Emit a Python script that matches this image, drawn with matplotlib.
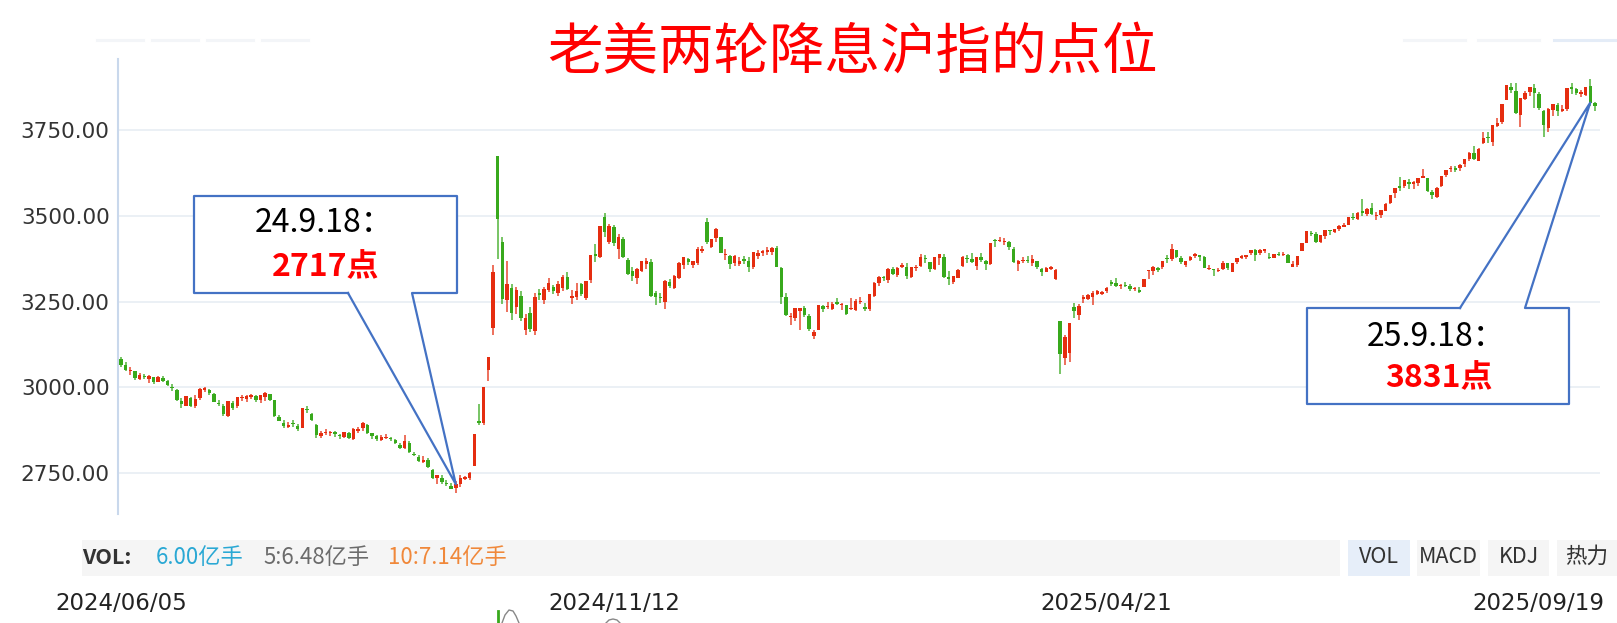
import numpy as np
import matplotlib
matplotlib.use("Agg")
import matplotlib.pyplot as plt
from matplotlib.patches import Rectangle
from matplotlib.lines import Line2D
from matplotlib.transforms import blended_transform_factory

plt.rcParams["font.family"] = ["DejaVu Sans", "Noto Sans CJK SC"]

# Shanghai Composite daily candles, 2024/06/05 - 2025/09/19 (one entry per trading day)
open_ = [
    # 2024-06
    3083, 3064, 3047, 3046, 3024, 3033, 3024, 3029, 3015, 3027, 3017, 3001, 2993, 2960, 2946, 2969, 2945,
    # 2024-07
    2968, 2993, 2992, 2979, 2954, 2945, 2916, 2953, 2945, 2968, 2966, 2971, 2974, 2962, 2970, 2979, 2963,
    2913, 2895, 2884, 2893, 2888, 2880,
    # 2024-08
    2933, 2921, 2890, 2857, 2866, 2865, 2868, 2860, 2856, 2866, 2850, 2873, 2880, 2891, 2866, 2857, 2846,
    2851, 2852, 2846, 2832, 2823,
    # 2024-09
    2838, 2805, 2795, 2781, 2788, 2758, 2734, 2736, 2721, 2712, 2705, 2716, 2733, 2735, 2770, 2900, 2894,
    3049, 3174,
    # 2024-10
    3674, 3425, 3255, 3289, 3235, 3265, 3168, 3216, 3165, 3276, 3255, 3285, 3292, 3274, 3290, 3323, 3260, 3262,
    # 2024-11
    3300, 3260, 3313, 3390, 3380, 3498, 3425, 3467, 3405, 3434, 3372, 3340, 3318, 3340, 3360, 3366, 3275,
    3262, 3248, 3306, 3290,
    # 2024-12
    3320, 3358, 3374, 3358, 3364, 3397, 3482, 3410, 3435, 3438, 3386, 3384, 3363, 3360, 3374, 3369, 3351,
    3384, 3393, 3394, 3394, 3407,
    # 2025-01
    3347, 3262, 3205, 3203, 3223, 3230, 3207, 3150, 3166, 3237, 3234, 3227, 3250, 3240, 3240, 3227, 3225, 3250,
    # 2025-02
    3233, 3228, 3265, 3303, 3319, 3313, 3344, 3327, 3350, 3352, 3322, 3347, 3353, 3378, 3365, 3344, 3376, 3381,
    # 2025-03
    3323, 3306, 3320, 3355, 3376, 3375, 3353, 3381, 3369, 3359, 3428, 3428, 3425, 3425, 3405, 3360, 3368,
    3370, 3364, 3369, 3346,
    # 2025-04
    3337, 3345, 3315, 3193, 3085, 3100, 3235, 3211, 3258, 3258, 3262, 3272, 3272, 3280, 3308, 3305, 3295,
    3296, 3295, 3286, 3285,
    # 2025-05
    3294, 3339, 3340, 3349, 3352, 3378, 3373, 3401, 3378, 3357, 3371, 3383, 3385, 3380, 3344, 3344, 3340,
    3345, 3362,
    # 2025-06
    3336, 3365, 3378, 3381, 3392, 3402, 3391, 3397, 3380, 3376, 3389, 3386, 3385, 3352, 3358, 3397, 3422,
    3449, 3447, 3424,
    # 2025-07
    3441, 3458, 3452, 3461, 3468, 3474, 3495, 3490, 3515, 3505, 3524, 3501, 3502, 3516, 3537, 3566, 3588,
    3587, 3600, 3592, 3597, 3611, 3610,
    # 2025-08
    3570, 3556, 3589, 3619, 3636, 3640, 3639, 3652, 3667, 3683, 3662, 3712, 3732, 3717, 3764, 3774, 3840,
    3877, 3865, 3796, 3843,
    # 2025-09
    3861, 3874, 3855, 3808, 3756, 3811, 3824, 3808, 3812, 3876, 3872, 3855, 3852, 3879, 3830,
]

high = [
    3087, 3073, 3058, 3047, 3041, 3039, 3036, 3031, 3032, 3032, 3022, 3008, 2995, 2968, 2974, 2972, 2978,
    2998, 3002, 2996, 2983, 2964, 2950, 2960, 2960, 2972, 2976, 2977, 2981, 2976, 2978, 2985, 2981, 2964,
    2920, 2903, 2897, 2904, 2893, 2939,
    2945, 2924, 2893, 2871, 2878, 2873, 2872, 2863, 2870, 2870, 2880, 2884, 2898, 2892, 2866, 2861, 2859,
    2864, 2856, 2850, 2838, 2860,
    2843, 2812, 2802, 2798, 2792, 2760, 2744, 2745, 2728, 2719, 2726, 2744, 2742, 2752, 2864, 2952, 3001,
    3088, 3358,
    3674, 3440, 3370, 3300, 3292, 3280, 3215, 3235, 3275, 3288, 3294, 3318, 3299, 3310, 3327, 3337, 3285, 3303,
    3305, 3311, 3387, 3418, 3471, 3509, 3478, 3474, 3447, 3438, 3376, 3350, 3348, 3370, 3376, 3375, 3282,
    3275, 3312, 3317, 3328,
    3366, 3379, 3378, 3369, 3409, 3412, 3495, 3433, 3465, 3440, 3405, 3387, 3387, 3379, 3382, 3380, 3394,
    3401, 3402, 3410, 3410, 3411,
    3352, 3274, 3218, 3230, 3232, 3236, 3214, 3166, 3241, 3241, 3248, 3248, 3261, 3247, 3241, 3261, 3258, 3264,
    3246, 3271, 3306, 3324, 3325, 3347, 3350, 3350, 3364, 3362, 3352, 3356, 3388, 3385, 3367, 3380, 3390, 3388,
    3338, 3325, 3345, 3384, 3385, 3392, 3380, 3391, 3371, 3420, 3434, 3440, 3436, 3427, 3409, 3371, 3379,
    3383, 3385, 3370, 3348,
    3350, 3355, 3345, 3193, 3151, 3188, 3245, 3244, 3268, 3273, 3280, 3283, 3281, 3294, 3312, 3320, 3302,
    3306, 3300, 3292, 3293,
    3316, 3343, 3353, 3352, 3370, 3386, 3418, 3402, 3382, 3369, 3382, 3393, 3386, 3382, 3357, 3346, 3348,
    3368, 3363,
    3362, 3376, 3386, 3387, 3401, 3403, 3404, 3404, 3392, 3389, 3394, 3394, 3390, 3370, 3382, 3421, 3456,
    3455, 3454, 3445,
    3459, 3460, 3463, 3475, 3479, 3497, 3509, 3511, 3550, 3522, 3539, 3512, 3517, 3537, 3560, 3582, 3613,
    3606, 3608, 3603, 3610, 3636, 3611,
    3575, 3584, 3618, 3635, 3646, 3645, 3652, 3666, 3688, 3705, 3698, 3746, 3746, 3766, 3787, 3826, 3884,
    3888, 3888, 3845, 3866,
    3876, 3885, 3862, 3809, 3816, 3827, 3830, 3825, 3875, 3887, 3874, 3868, 3877, 3899, 3834,
]

low = [
    3059, 3046, 3036, 3021, 3022, 3025, 3011, 3009, 3014, 3016, 3004, 2990, 2960, 2940, 2946, 2943, 2940,
    2964, 2985, 2978, 2956, 2945, 2916, 2913, 2933, 2940, 2961, 2957, 2966, 2957, 2955, 2960, 2961, 2913,
    2900, 2880, 2880, 2883, 2873, 2880,
    2925, 2900, 2852, 2852, 2860, 2858, 2856, 2849, 2852, 2849, 2845, 2866, 2873, 2864, 2850, 2844, 2844,
    2850, 2844, 2833, 2819, 2820,
    2809, 2798, 2783, 2780, 2765, 2733, 2716, 2716, 2712, 2702, 2690, 2708, 2729, 2728, 2770, 2889, 2889,
    3017, 3152,
    3374, 3243, 3220, 3195, 3215, 3193, 3152, 3160, 3152, 3255, 3242, 3277, 3272, 3267, 3280, 3285, 3242, 3255,
    3265, 3255, 3305, 3365, 3376, 3438, 3417, 3412, 3374, 3376, 3328, 3310, 3300, 3335, 3344, 3264, 3240,
    3247, 3228, 3290, 3286,
    3315, 3346, 3357, 3349, 3357, 3393, 3417, 3407, 3423, 3391, 3372, 3345, 3355, 3353, 3360, 3336, 3344,
    3373, 3384, 3386, 3387, 3351,
    3242, 3209, 3181, 3193, 3168, 3204, 3163, 3141, 3166, 3221, 3228, 3226, 3240, 3226, 3210, 3226, 3223, 3242,
    3222, 3223, 3262, 3295, 3310, 3305, 3329, 3322, 3348, 3315, 3318, 3339, 3350, 3363, 3337, 3343, 3358, 3320,
    3298, 3300, 3320, 3350, 3362, 3362, 3343, 3365, 3343, 3357, 3409, 3424, 3416, 3400, 3364, 3338, 3362,
    3363, 3353, 3345, 3324,
    3336, 3341, 3314, 3040, 3064, 3075, 3201, 3196, 3247, 3255, 3240, 3268, 3268, 3276, 3296, 3294, 3288,
    3292, 3280, 3282, 3274,
    3292, 3316, 3329, 3337, 3344, 3363, 3368, 3378, 3360, 3351, 3369, 3378, 3370, 3347, 3342, 3324, 3336,
    3341, 3343,
    3336, 3361, 3374, 3374, 3387, 3369, 3386, 3392, 3375, 3376, 3383, 3383, 3362, 3350, 3350, 3397, 3420,
    3442, 3421, 3421,
    3434, 3445, 3449, 3456, 3467, 3474, 3489, 3487, 3500, 3499, 3502, 3488, 3494, 3516, 3535, 3554, 3573,
    3581, 3580, 3580, 3589, 3610, 3569,
    3550, 3553, 3585, 3614, 3628, 3629, 3630, 3642, 3660, 3664, 3660, 3710, 3712, 3705, 3760, 3770, 3838,
    3858, 3797, 3761, 3838,
    3849, 3815, 3809, 3731, 3746, 3793, 3793, 3804, 3806, 3856, 3854, 3848, 3849, 3821, 3807,
]

close = [
    3065, 3049, 3051, 3028, 3037, 3029, 3033, 3016, 3030, 3018, 3005, 2998, 2963, 2950, 2973, 2946, 2967,
    2995, 2997, 2982, 2958, 2950, 2922, 2959, 2939, 2970, 2971, 2974, 2976, 2963, 2977, 2982, 2964, 2915,
    2902, 2887, 2891, 2892, 2879, 2939,
    2932, 2905, 2861, 2867, 2870, 2870, 2862, 2858, 2868, 2851, 2877, 2879, 2894, 2867, 2857, 2849, 2854,
    2856, 2848, 2837, 2823, 2842,
    2811, 2803, 2784, 2788, 2766, 2736, 2744, 2722, 2717, 2704, 2717, 2736, 2737, 2749, 2863, 2896, 3001,
    3088, 3336,
    3490, 3259, 3302, 3218, 3284, 3201, 3203, 3169, 3262, 3268, 3286, 3303, 3280, 3300, 3322, 3286, 3266, 3280,
    3272, 3310, 3387, 3384, 3471, 3454, 3470, 3422, 3439, 3380, 3331, 3324, 3346, 3368, 3370, 3267, 3264,
    3260, 3310, 3296, 3326,
    3364, 3379, 3365, 3368, 3404, 3403, 3423, 3432, 3462, 3392, 3386, 3361, 3382, 3370, 3368, 3351, 3394,
    3393, 3398, 3400, 3407, 3352,
    3263, 3211, 3207, 3230, 3230, 3211, 3169, 3161, 3241, 3227, 3236, 3242, 3244, 3243, 3214, 3230, 3253, 3251,
    3229, 3271, 3304, 3322, 3318, 3346, 3332, 3347, 3356, 3324, 3352, 3351, 3379, 3373, 3346, 3380, 3388, 3321,
    3317, 3324, 3342, 3381, 3373, 3366, 3380, 3372, 3359, 3420, 3426, 3430, 3426, 3409, 3365, 3370, 3370,
    3369, 3374, 3351, 3336,
    3348, 3350, 3342, 3097, 3146, 3187, 3224, 3238, 3263, 3268, 3276, 3280, 3277, 3291, 3300, 3296, 3297,
    3295, 3288, 3287, 3279,
    3316, 3343, 3352, 3342, 3369, 3375, 3404, 3381, 3367, 3368, 3380, 3388, 3380, 3348, 3347, 3341, 3340,
    3363, 3347,
    3362, 3376, 3384, 3385, 3400, 3385, 3402, 3403, 3377, 3389, 3387, 3389, 3362, 3360, 3382, 3421, 3456,
    3448, 3424, 3444,
    3458, 3455, 3461, 3472, 3473, 3497, 3493, 3510, 3510, 3520, 3505, 3504, 3517, 3534, 3560, 3582, 3582,
    3606, 3594, 3598, 3610, 3616, 3573,
    3560, 3583, 3618, 3634, 3640, 3635, 3648, 3666, 3683, 3666, 3697, 3728, 3727, 3766, 3771, 3826, 3884,
    3868, 3800, 3844, 3858,
    3876, 3858, 3814, 3766, 3813, 3827, 3807, 3812, 3875, 3871, 3860, 3862, 3876, 3831, 3820,
]

date_labels = ["2024/06/05", "2024/11/12", "2025/04/21", "2025/09/19"]
date_label_index = [0, 106, 212, 317]
y_ticks = [2750, 3000, 3250, 3500, 3750]

title_text = "老美两轮降息沪指的点位"
callout_dates = ["24.9.18：", "25.9.18："]
callout_values = ["2717点", "3831点"]
callout_index = [72, 316]

vol_texts = ["6.00亿手", "5:6.48亿手", "10:7.14亿手"]
tab_labels = ["VOL", "MACD", "KDJ", "热力"]

UP = "#e52d10"
DOWN = "#38a91c"

W, H = 1617, 623
fig = plt.figure(figsize=(W / 100, H / 100), dpi=100)
fig.patch.set_facecolor("white")


def fx(px):
    return px / W


def fy(py):
    return 1 - py / H


# price panel
ax = fig.add_axes([fx(118), fy(514), (1600 - 118) / W, (514 - 59) / H])
ax.set_xlim(-0.65, 318.1)
ax.set_ylim(2629.7, 3958.5)
for s in ("top", "right", "bottom"):
    ax.spines[s].set_visible(False)
ax.spines["left"].set_color("#c9d8ec")
ax.spines["left"].set_linewidth(1.5)
ax.set_xticks([])
ax.set_yticks(y_ticks)
ax.set_yticklabels([f"{t:.2f}" for t in y_ticks])
ax.tick_params(axis="y", length=0, pad=6, labelsize=15.5, labelcolor="#333333")
for t in y_ticks:
    ax.axhline(t, color="#e8edf3", lw=1.2, zorder=0)

o = np.array(open_, dtype=float)
h = np.array(high, dtype=float)
l = np.array(low, dtype=float)
c = np.array(close, dtype=float)
x = np.arange(len(c))
up = c >= o
cols = np.where(up, UP, DOWN)

body_lo = np.minimum(o, c)
body_h = np.maximum(np.abs(c - o), 3.0)
ax.vlines(x, np.minimum(l, body_lo), np.maximum(h, body_lo + body_h),
          colors=cols, linewidth=1.2, alpha=0.8, zorder=2)
ax.bar(x, body_h, bottom=body_lo, width=0.74, color=cols, linewidth=0, zorder=3)

# date labels under the panel
trans = blended_transform_factory(ax.transData, fig.transFigure)
for i, (idx, lab) in enumerate(zip(date_label_index, date_labels)):
    last = i == len(date_labels) - 1
    ax.annotate(lab, xy=(idx, fy(604)), xycoords=trans,
                xytext=(9 if last else 0, 0), textcoords="offset pixels",
                ha="right" if last else "center", va="center",
                fontsize=16.5, color="#222222", annotation_clip=False)

# title
fig.text(fx(852), fy(54), title_text, ha="center", va="center", fontsize=40,
         color="#ff0000", family=["Noto Sans CJK SC"])

# faint tab strokes at the top
for a, b, col in [(97, 143, "#f3f5f8"), (152, 198, "#f3f5f8"), (207, 253, "#f3f5f8"),
                  (262, 308, "#f3f5f8"), (1404, 1465, "#f3f5f8"), (1478, 1539, "#f3f5f8"),
                  (1554, 1616, "#e4ecf7")]:
    fig.add_artist(Line2D([fx(a), fx(b)], [fy(40), fy(40)], color=col, lw=2.2,
                          transform=fig.transFigure))

# volume legend bar
fig.add_artist(Rectangle((fx(82), fy(576)), (1340 - 82) / W, 36 / H,
                         transform=fig.transFigure, color="#f5f5f5", lw=0))
fig.text(fx(82), fy(557), "VOL:", ha="left", va="center", fontsize=15.5,
         fontweight="bold", color="#333333", family=["Noto Sans CJK SC"])
for txt, xpos, col in zip(vol_texts, [156, 263, 388], ["#2aa8d4", "#6b6b6b", "#f0883a"]):
    fig.text(fx(xpos), fy(557), txt, ha="left", va="center", fontsize=16,
             color=col, family=["Noto Sans CJK SC"])

for lab, (a, b), bg in zip(tab_labels, [(1348, 1410), (1417, 1480), (1488, 1549), (1557, 1617)],
                           ["#e6eef9", "#f5f5f5", "#f5f5f5", "#f5f5f5"]):
    fig.add_artist(Rectangle((fx(a), fy(576)), (b - a) / W, 36 / H,
                             transform=fig.transFigure, color=bg, lw=0))
    fig.text(fx((a + b) / 2), fy(557), lab, ha="center", va="center", fontsize=15.5,
             color="#333333", family=["Noto Sans CJK SC"])

# clipped fragments of the lower panel
fig.add_artist(Line2D([fx(498), fx(498)], [fy(611), fy(623)], color=DOWN, lw=2,
                      transform=fig.transFigure))
fig.add_artist(Line2D([fx(p) for p in (502, 505, 509, 513, 516, 519)],
                      [fy(p) for p in (623, 615, 610, 611, 616, 623)],
                      color="#888888", lw=1, transform=fig.transFigure))
fig.add_artist(Line2D([fx(p) for p in (606, 609, 613, 617, 620)],
                      [fy(p) for p in (623, 620, 619, 620, 623)],
                      color="#888888", lw=1, transform=fig.transFigure))


def tip_px(idx):
    disp = ax.transData.transform((idx, c[idx]))
    return disp[0], H - disp[1]


BLUE = "#4472c4"
boxes = [
    dict(x0=194, x1=457, y0=196, y1=293, b0=348, b1=412, below=True,
         tx=255, ty1=223, tv=272, ty2=267),
    dict(x0=1307, x1=1569, y0=308, y1=404, b0=1460, b1=1525, below=False,
         tx=1367, ty1=337, tv=1385, ty2=378),
]
for bx, date_txt, val_txt, idx in zip(boxes, callout_dates, callout_values, callout_index):
    tx_, ty_ = tip_px(idx)
    fig.add_artist(Rectangle((fx(bx["x0"]), fy(bx["y1"])), (bx["x1"] - bx["x0"]) / W,
                             (bx["y1"] - bx["y0"]) / H, transform=fig.transFigure,
                             facecolor="white", edgecolor="none", zorder=5))
    if bx["below"]:
        pts = [(bx["b0"], bx["y1"]), (bx["x0"], bx["y1"]), (bx["x0"], bx["y0"]),
               (bx["x1"], bx["y0"]), (bx["x1"], bx["y1"]), (bx["b1"], bx["y1"]),
               (tx_, ty_), (bx["b0"], bx["y1"])]
    else:
        pts = [(bx["b0"], bx["y0"]), (bx["x0"], bx["y0"]), (bx["x0"], bx["y1"]),
               (bx["x1"], bx["y1"]), (bx["x1"], bx["y0"]), (bx["b1"], bx["y0"]),
               (tx_, ty_), (bx["b0"], bx["y0"])]
    fig.add_artist(Line2D([fx(p[0]) for p in pts], [fy(p[1]) for p in pts],
                          color=BLUE, lw=1.6, transform=fig.transFigure, zorder=6))
    fig.text(fx(bx["tx"]), fy(bx["ty1"]), date_txt, ha="left", va="center",
             fontsize=23, color="black", family=["Noto Sans CJK SC"], zorder=7)
    fig.text(fx(bx["tv"]), fy(bx["ty2"]), val_txt, ha="left", va="center",
             fontsize=23, fontweight="bold", color="#ff0000",
             family=["Noto Sans CJK SC"], zorder=7)

fig.savefig("out.png", dpi=100, facecolor="white")
